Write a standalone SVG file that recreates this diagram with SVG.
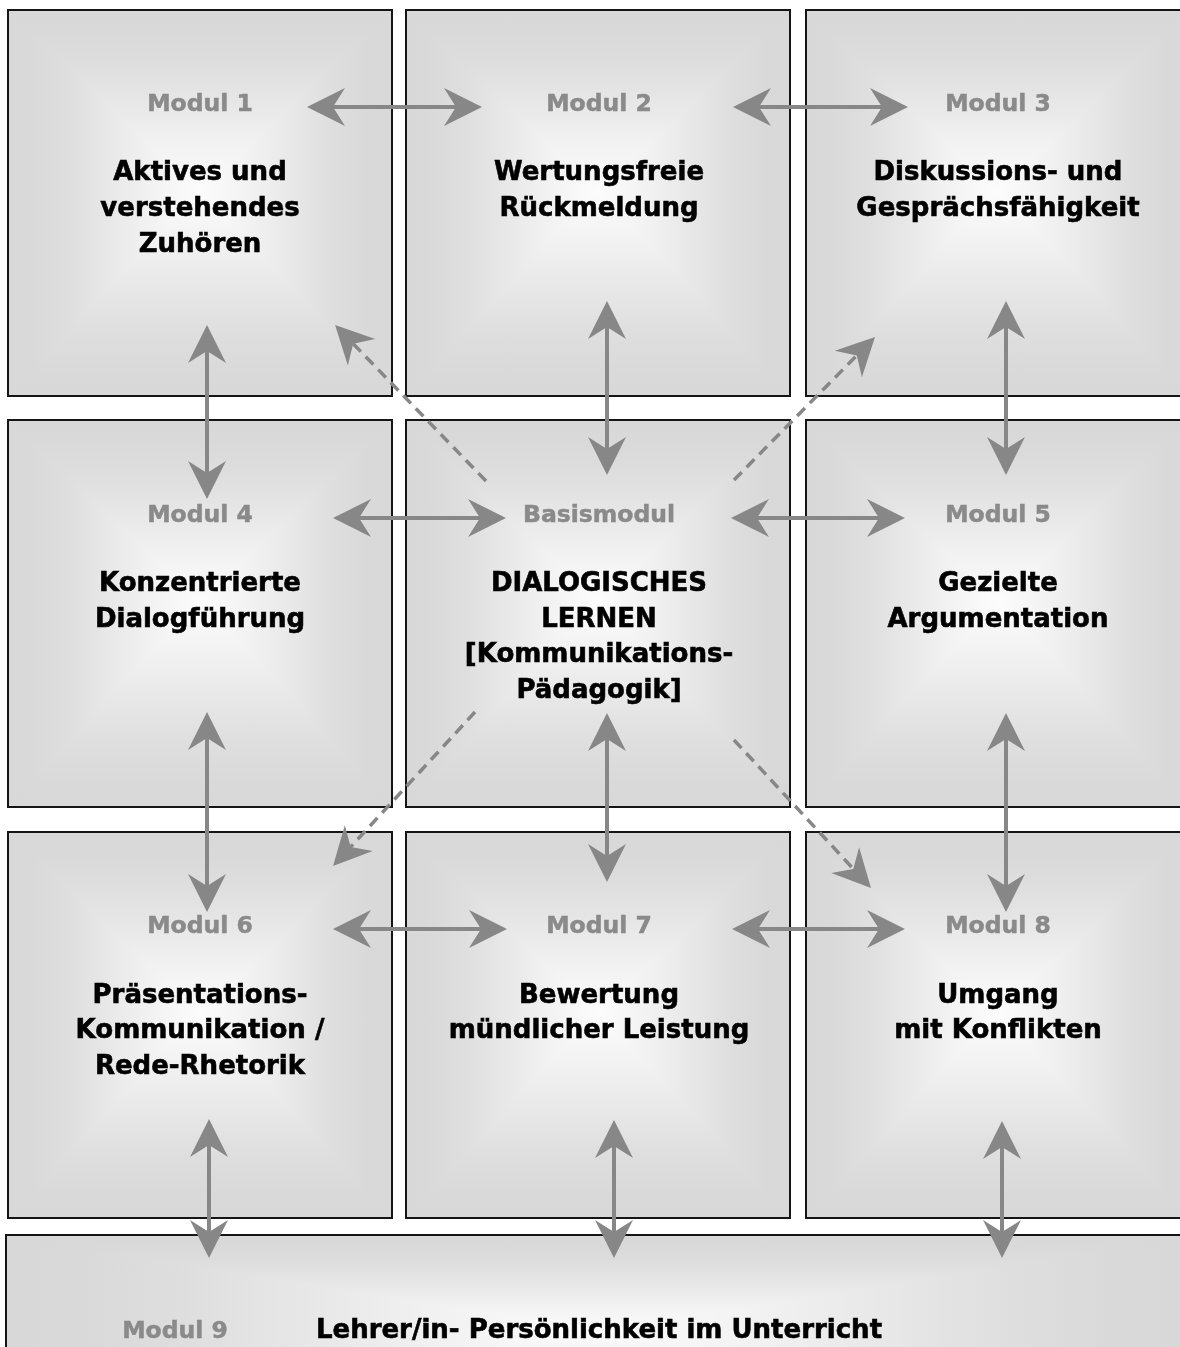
<svg xmlns="http://www.w3.org/2000/svg" width="1180" height="1347" viewBox="0 0 1180 1347">
<style>
.bg{fill:#ffffff}
.gh{fill:url(#gh)}
.gv{fill:url(#gv);mix-blend-mode:darken}
.bd{fill:none;stroke:#151515;stroke-width:2}
.lbl{font-family:"DejaVu Sans",Verdana,sans-serif;font-weight:bold;font-size:23.5px;fill:#8a8a8a;stroke:#8a8a8a;stroke-width:0.5;text-anchor:middle}
.ttl{font-family:"DejaVu Sans",Verdana,sans-serif;font-weight:bold;font-size:26px;fill:#000000;stroke:#000000;stroke-width:0.6;text-anchor:middle}
.ar{stroke:#878787;stroke-width:4;fill:none;marker-start:url(#hd);marker-end:url(#hd)}
.da{stroke:#878787;stroke-width:3.5;fill:none;stroke-dasharray:11 7;marker-end:url(#hd)}
</style>
<defs>
<linearGradient id="gh" x1="0" y1="0" x2="1" y2="0">
<stop offset="0" stop-color="#d8d8d8"/>
<stop offset="0.06" stop-color="#d9d9d9"/>
<stop offset="0.15" stop-color="#dedede"/>
<stop offset="0.25" stop-color="#e7e7e7"/>
<stop offset="0.36" stop-color="#f1f1f1"/>
<stop offset="0.5" stop-color="#fcfcfc"/>
<stop offset="0.64" stop-color="#f1f1f1"/>
<stop offset="0.75" stop-color="#e7e7e7"/>
<stop offset="0.85" stop-color="#dedede"/>
<stop offset="0.94" stop-color="#d9d9d9"/>
<stop offset="1" stop-color="#d8d8d8"/>
</linearGradient>
<linearGradient id="gv" x1="0" y1="0" x2="0" y2="1">
<stop offset="0" stop-color="#d8d8d8"/>
<stop offset="0.06" stop-color="#d9d9d9"/>
<stop offset="0.14" stop-color="#dedede"/>
<stop offset="0.24" stop-color="#e7e7e7"/>
<stop offset="0.34" stop-color="#f1f1f1"/>
<stop offset="0.47" stop-color="#fcfcfc"/>
<stop offset="0.61" stop-color="#f1f1f1"/>
<stop offset="0.73" stop-color="#e7e7e7"/>
<stop offset="0.84" stop-color="#dedede"/>
<stop offset="0.94" stop-color="#d9d9d9"/>
<stop offset="1" stop-color="#d8d8d8"/>
</linearGradient>
<marker id="hd" markerUnits="userSpaceOnUse" markerWidth="60" markerHeight="60" refX="-20" refY="0" orient="auto-start-reverse" overflow="visible">
<path d="M0,0 L-38,-19 L-26,0 L-38,19 Z" fill="#878787"/>
</marker>
</defs>
<rect class="bg" x="0" y="0" width="1180" height="1347"/>

<g id="modul1">
<rect class="gh" x="8" y="10" width="384" height="386"/>
<rect class="gv" x="8" y="10" width="384" height="386"/>
<rect class="bd" x="8" y="10" width="384" height="386"/>
<text class="lbl" x="200" y="111">Modul 1</text>
<text class="ttl" x="200" y="180">Aktives und</text>
<text class="ttl" x="200" y="216">verstehendes</text>
<text class="ttl" x="200" y="252">Zuhören</text>
</g>
<g id="modul2">
<rect class="gh" x="406" y="10" width="384" height="386"/>
<rect class="gv" x="406" y="10" width="384" height="386"/>
<rect class="bd" x="406" y="10" width="384" height="386"/>
<text class="lbl" x="599" y="111">Modul 2</text>
<text class="ttl" x="599" y="180">Wertungsfreie</text>
<text class="ttl" x="599" y="216">Rückmeldung</text>
</g>
<g id="modul3">
<rect class="gh" x="806" y="10" width="384" height="386"/>
<rect class="gv" x="806" y="10" width="384" height="386"/>
<rect class="bd" x="806" y="10" width="384" height="386"/>
<text class="lbl" x="998" y="111">Modul 3</text>
<text class="ttl" x="998" y="180">Diskussions- und</text>
<text class="ttl" x="998" y="216">Gesprächsfähigkeit</text>
</g>
<g id="modul4">
<rect class="gh" x="8" y="420" width="384" height="387"/>
<rect class="gv" x="8" y="420" width="384" height="387"/>
<rect class="bd" x="8" y="420" width="384" height="387"/>
<text class="lbl" x="200" y="522">Modul 4</text>
<text class="ttl" x="200" y="591">Konzentrierte</text>
<text class="ttl" x="200" y="627">Dialogführung</text>
</g>
<g id="basismodul">
<rect class="gh" x="406" y="420" width="384" height="387"/>
<rect class="gv" x="406" y="420" width="384" height="387"/>
<rect class="bd" x="406" y="420" width="384" height="387"/>
<text class="lbl" x="599" y="522">Basismodul</text>
<text class="ttl" x="599" y="591">DIALOGISCHES</text>
<text class="ttl" x="599" y="627">LERNEN</text>
<text class="ttl" x="599" y="662">[Kommunikations-</text>
<text class="ttl" x="599" y="698">Pädagogik]</text>
</g>
<g id="modul5">
<rect class="gh" x="806" y="420" width="384" height="387"/>
<rect class="gv" x="806" y="420" width="384" height="387"/>
<rect class="bd" x="806" y="420" width="384" height="387"/>
<text class="lbl" x="998" y="522">Modul 5</text>
<text class="ttl" x="998" y="591">Gezielte</text>
<text class="ttl" x="998" y="627">Argumentation</text>
</g>
<g id="modul6">
<rect class="gh" x="8" y="832" width="384" height="386"/>
<rect class="gv" x="8" y="832" width="384" height="386"/>
<rect class="bd" x="8" y="832" width="384" height="386"/>
<text class="lbl" x="200" y="933">Modul 6</text>
<text class="ttl" x="200" y="1003">Präsentations-</text>
<text class="ttl" x="200" y="1038">Kommunikation /</text>
<text class="ttl" x="200" y="1074">Rede-Rhetorik</text>
</g>
<g id="modul7">
<rect class="gh" x="406" y="832" width="384" height="386"/>
<rect class="gv" x="406" y="832" width="384" height="386"/>
<rect class="bd" x="406" y="832" width="384" height="386"/>
<text class="lbl" x="599" y="933">Modul 7</text>
<text class="ttl" x="599" y="1003">Bewertung</text>
<text class="ttl" x="599" y="1038">mündlicher Leistung</text>
</g>
<g id="modul8">
<rect class="gh" x="806" y="832" width="384" height="386"/>
<rect class="gv" x="806" y="832" width="384" height="386"/>
<rect class="bd" x="806" y="832" width="384" height="386"/>
<text class="lbl" x="998" y="933">Modul 8</text>
<text class="ttl" x="998" y="1003">Umgang</text>
<text class="ttl" x="998" y="1038">mit Konflikten</text>
</g>
<g id="modul9">
<rect class="gh" x="6" y="1235" width="1186" height="204"/>
<rect class="gv" x="6" y="1235" width="1186" height="204"/>
<rect class="bd" x="6" y="1235" width="1186" height="204"/>
<text class="lbl" x="175" y="1338">Modul 9</text>
<text class="ttl" x="599" y="1338">Lehrer/in- Persönlichkeit im Unterricht</text>
</g>

<g id="connectors">
<line class="ar" x1="327" y1="107" x2="462" y2="107"/>
<line class="ar" x1="753" y1="107" x2="888" y2="107"/>
<line class="ar" x1="353" y1="518" x2="486" y2="518"/>
<line class="ar" x1="751" y1="518" x2="885" y2="518"/>
<line class="ar" x1="353" y1="929" x2="487" y2="929"/>
<line class="ar" x1="752" y1="929" x2="885" y2="929"/>
<line class="ar" x1="207" y1="345" x2="207" y2="479"/>
<line class="ar" x1="607" y1="321" x2="607" y2="455"/>
<line class="ar" x1="1006" y1="321" x2="1006" y2="455"/>
<line class="ar" x1="207" y1="732" x2="207" y2="892"/>
<line class="ar" x1="607" y1="733" x2="607" y2="862"/>
<line class="ar" x1="1006" y1="733" x2="1006" y2="892"/>
<line class="ar" x1="209" y1="1139" x2="209" y2="1238"/>
<line class="ar" x1="614" y1="1140" x2="614" y2="1238"/>
<line class="ar" x1="1002" y1="1141" x2="1002" y2="1238"/>
<line class="da" x1="486" y1="481" x2="349" y2="339.4"/>
<line class="da" x1="734" y1="480" x2="861" y2="351.2"/>
<line class="da" x1="475" y1="712" x2="346.6" y2="851.3"/>
<line class="da" x1="734" y1="740" x2="857.4" y2="873.3"/>
</g>
</svg>
